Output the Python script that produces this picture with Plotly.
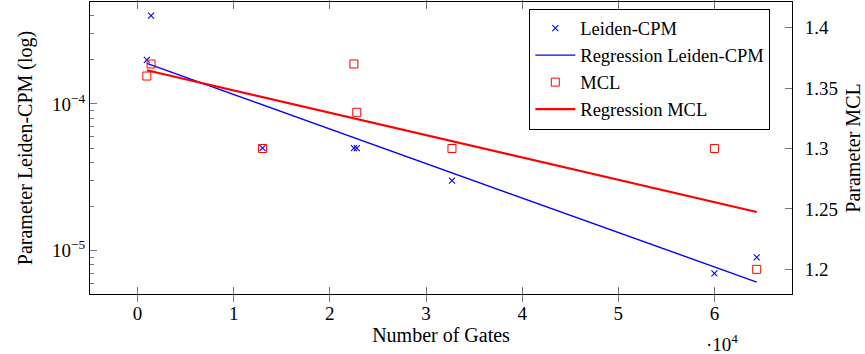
import numpy as np
import plotly.graph_objects as go

# ---- data ----
gates = [960, 1400, 13000, 22500, 22800, 32700, 60000, 64400]
leiden_cpm = [2e-4, 4e-4, 5e-5, 5e-5, 5e-5, 3e-5, 7e-6, 9e-6]
mcl = [1.36, 1.37, 1.30, 1.37, 1.33, 1.30, 1.30, 1.20]

x_tickvals = [0, 10000, 20000, 30000, 40000, 50000, 60000]
x_ticktext = ["0", "1", "2", "3", "4", "5", "6"]
y_tickvals = [1e-5, 1e-4]
y_ticktext = ["10<sup>\u22125</sup>", "10<sup>\u22124</sup>"]
y2_tickvals = [1.2, 1.25, 1.3, 1.35, 1.4]
y2_ticktext = ["1.2", "1.25", "1.3", "1.35", "1.4"]

# ---- regressions ----
xa = np.array(gates, dtype=float)
b1 = np.polyfit(xa, np.log10(leiden_cpm), 1)
b2 = np.polyfit(xa, np.array(mcl), 1)
xr = np.array([xa.min(), xa.max()])
reg_leiden = 10 ** np.polyval(b1, xr)
reg_mcl = np.polyval(b2, xr)

FONT = "Liberation Serif"
FS = 19
FT = 20
FL = 18.5
BLUE = "#0000ff"
RED = "#ff0000"

fig = go.Figure()
fig.add_trace(go.Scatter(x=gates, y=leiden_cpm, mode="markers", name="Leiden-CPM",
                         marker=dict(symbol="x-thin", size=6, color=BLUE,
                                     line=dict(color=BLUE, width=1.1)),
                         yaxis="y"))
fig.add_trace(go.Scatter(x=xr, y=reg_leiden, mode="lines", name="Regression Leiden-CPM",
                         line=dict(color=BLUE, width=1.4), yaxis="y"))
fig.add_trace(go.Scatter(x=gates, y=mcl, mode="markers", name="MCL",
                         marker=dict(symbol="square-open", size=8, color=RED,
                                     line=dict(color=RED, width=1)),
                         yaxis="y2"))
fig.add_trace(go.Scatter(x=xr, y=reg_mcl, mode="lines", name="Regression MCL",
                         line=dict(color=RED, width=2.2), yaxis="y2"))

L, R, T, B = 90, 73, 2, 60
W, H = 865, 354
pw = W - L - R
ph = H - T - B

fig.update_layout(
    width=W, height=H,
    margin=dict(l=L, r=R, t=T, b=B, pad=0, autoexpand=False),
    paper_bgcolor="white", plot_bgcolor="white",
    font=dict(family=FONT, size=FS, color="black"),
    showlegend=True,
    legend=dict(x=(770.3 - L) / pw, y=1 - (8.5 - T) / ph, xanchor="right", yanchor="top",
                bordercolor="black", borderwidth=1, bgcolor="white",
                itemwidth=40,
                font=dict(family=FONT, size=FL), tracegroupgap=0),
    xaxis=dict(range=[-4950, 68070], tickvals=x_tickvals, ticktext=x_ticktext,
               showline=True, linecolor="black", linewidth=1, mirror="allticks",
               ticks="inside", ticklen=7, tickcolor="#777", tickwidth=1,
               ticklabelstandoff=2,
               showgrid=False, zeroline=False, automargin=False,
               title=dict(text="Number of Gates", standoff=5, font=dict(size=FT))),
    yaxis=dict(type="log", range=[-5.295, -3.305], tickvals=y_tickvals, ticktext=y_ticktext,
               showline=True, linecolor="black", linewidth=1,
               ticks="inside", ticklen=7, tickcolor="#777", tickwidth=1,
               minor=dict(ticks="inside", ticklen=4, tickcolor="#777", tickwidth=1,
                          tickvals=[k * 10.0 ** e for e in (-6, -5, -4) for k in range(2, 10)]),
               showgrid=False, zeroline=False, automargin=False,
               title=dict(text="Parameter Leiden-CPM (log)", standoff=14, font=dict(size=FT))),
    yaxis2=dict(overlaying="y", side="right", range=[1.1796, 1.4213],
                tickvals=y2_tickvals, ticktext=y2_ticktext,
                showline=True, linecolor="black", linewidth=1,
                ticks="inside", ticklen=7, tickcolor="#777", tickwidth=1,
                ticklabelstandoff=8,
                showgrid=False, zeroline=False, automargin=False,
                title=dict(text="Parameter MCL", standoff=8, font=dict(size=FT))),
)

fig.add_annotation(text="\u00b710<sup>4</sup>", xref="paper", yref="paper",
                   x=(721.7 - L) / pw, y=-(343 - (H - B)) / ph,
                   xanchor="center", yanchor="middle", showarrow=False,
                   font=dict(family=FONT, size=FS))

fig.write_html("out.html", config={"displayModeBar": False},
               post_script="document.body.style.margin='0';")
